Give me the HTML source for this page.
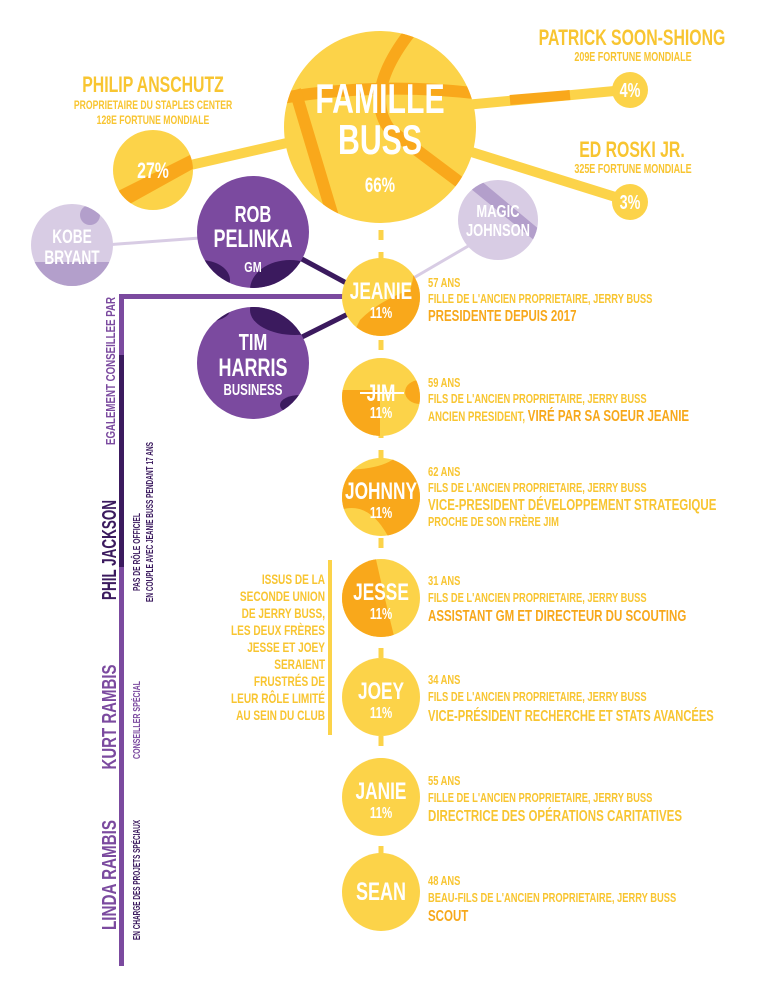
<!DOCTYPE html>
<html><head><meta charset="utf-8"><style>
html,body{margin:0;padding:0;background:#fff;}
svg{display:block;}
text{font-family:"Liberation Sans Narrow","Liberation Sans",sans-serif;font-weight:bold;transform-box:fill-box;transform-origin:50% 50%;transform:scaleX(.72);}
text.l{transform-origin:0 50%;}
text.r{transform-origin:100% 50%;}
text.n{transform:none;}
.w{fill:#fff;}
.y{fill:#f8c531;}
.o{fill:#f7a81b;}
.p{fill:#7b4a9f;}
.dp{fill:#3b1a5e;}
</style></head><body>
<svg width="770" height="1000" viewBox="0 0 770 1000" xmlns="http://www.w3.org/2000/svg">
<defs>
<clipPath id="cb"><circle cx="380" cy="127" r="96"/></clipPath>
<clipPath id="cph"><circle cx="153" cy="170" r="40"/></clipPath>
<clipPath id="crob"><circle cx="253" cy="232" r="56"/></clipPath>
<clipPath id="ctim"><circle cx="253" cy="363" r="56"/></clipPath>
<clipPath id="ckobe"><circle cx="72" cy="245" r="41"/></clipPath>
<clipPath id="cmag"><circle cx="498" cy="220" r="40"/></clipPath>
<clipPath id="cje"><circle cx="381" cy="297" r="39"/></clipPath>
<clipPath id="cjim"><circle cx="381" cy="397" r="39"/></clipPath>
<clipPath id="cjo"><circle cx="381" cy="497" r="39"/></clipPath>
<clipPath id="cjs"><circle cx="381" cy="598" r="39"/></clipPath>
</defs>

<line x1="160" y1="172" x2="300" y2="140" stroke="#fcd349" stroke-width="10"/>
<line x1="465" y1="105" x2="625" y2="90" stroke="#fcd349" stroke-width="10"/>
<line x1="510" y1="100" x2="570" y2="95" stroke="#f9a81b" stroke-width="10"/>
<line x1="465" y1="150" x2="625" y2="200" stroke="#fcd349" stroke-width="10"/>
<line x1="105" y1="245" x2="200" y2="238" stroke="#d8cce4" stroke-width="3"/>
<line x1="410" y1="280" x2="470" y2="245" stroke="#d8cce4" stroke-width="3"/>
<line x1="300" y1="258" x2="350" y2="285" stroke="#3b1a5e" stroke-width="5"/>
<line x1="300" y1="338" x2="350" y2="313" stroke="#3b1a5e" stroke-width="5"/>
<line x1="381" y1="230" x2="381" y2="900" stroke="#fcd349" stroke-width="5" stroke-dasharray="10,12"/>

<rect x="119" y="294" width="228" height="5" class="p"/>
<rect x="119" y="294" width="5" height="672" class="p"/>
<rect x="119" y="355" width="5" height="212" class="dp"/>
<rect x="328" y="560" width="4" height="175" fill="#fcd349"/>

<circle cx="380" cy="127" r="96" fill="#fcd349"/>
<g clip-path="url(#cb)" fill="none" stroke="#f9a81b" stroke-width="12">
<path d="M270 100 Q380 80 490 95"/>
<path d="M295 90 L340 240"/>
<path d="M420 20 Q360 90 390 130 Q430 160 470 190"/>
</g>
<text x="380" y="113" text-anchor="middle" class="w" font-size="42">FAMILLE</text>
<text x="380" y="154" text-anchor="middle" class="w" font-size="42">BUSS</text>
<text x="380" y="192" text-anchor="middle" class="w" font-size="21">66%</text>

<circle cx="153" cy="170" r="40" fill="#fcd349"/>
<g clip-path="url(#cph)"><polygon points="110,195 200,150 200,165 110,215" fill="#f9a81b"/></g>
<text x="153" y="178" text-anchor="middle" class="w" font-size="22">27%</text>
<text x="153" y="92" text-anchor="middle" class="y" font-size="22">PHILIP ANSCHUTZ</text>
<text x="153" y="109" text-anchor="middle" class="y" font-size="12">PROPRIETAIRE DU STAPLES CENTER</text>
<text x="153" y="124" text-anchor="middle" class="y" font-size="12">128E FORTUNE MONDIALE</text>

<circle cx="630" cy="90" r="18" fill="#fcd349"/>
<text x="630" y="97" text-anchor="middle" class="w" font-size="20">4%</text>
<text x="632" y="45" text-anchor="middle" class="y" font-size="22">PATRICK SOON-SHIONG</text>
<text x="633" y="61" text-anchor="middle" class="y" font-size="12.5">209E FORTUNE MONDIALE</text>
<circle cx="630" cy="202" r="18" fill="#fcd349"/>
<text x="630" y="209" text-anchor="middle" class="w" font-size="20">3%</text>
<text x="632" y="157" text-anchor="middle" class="y" font-size="22">ED ROSKI JR.</text>
<text x="633" y="173" text-anchor="middle" class="y" font-size="12.5">325E FORTUNE MONDIALE</text>

<circle cx="72" cy="245" r="41" fill="#d8cce4"/>
<g clip-path="url(#ckobe)"><rect x="30" y="262" width="90" height="30" fill="#b39fcb"/><circle cx="90" cy="215" r="10" fill="#b39fcb"/></g>
<text x="72" y="243" text-anchor="middle" class="w" font-size="19">KOBE</text>
<text x="72" y="264" text-anchor="middle" class="w" font-size="19">BRYANT</text>
<circle cx="498" cy="220" r="40" fill="#d8cce4"/>
<g clip-path="url(#cmag)"><polygon points="460,180 480,180 540,230 540,245" fill="#b39fcb"/></g>
<text x="498" y="217" text-anchor="middle" class="w" font-size="18">MAGIC</text>
<text x="498" y="236" text-anchor="middle" class="w" font-size="18">JOHNSON</text>

<circle cx="253" cy="232" r="56" class="p"/>
<g clip-path="url(#crob)" class="dp"><ellipse cx="290" cy="290" rx="40" ry="30"/><ellipse cx="200" cy="280" rx="30" ry="20"/></g>
<text x="253" y="222" text-anchor="middle" class="w" font-size="23">ROB</text>
<text x="253" y="247" text-anchor="middle" class="w" font-size="25">PELINKA</text>
<text x="253" y="272" text-anchor="middle" class="w" font-size="15">GM</text>
<circle cx="253" cy="363" r="56" class="p"/>
<g clip-path="url(#ctim)" class="dp"><ellipse cx="295" cy="310" rx="45" ry="25"/><ellipse cx="205" cy="310" rx="25" ry="12"/><ellipse cx="300" cy="405" rx="20" ry="10"/></g>
<text x="253" y="350" text-anchor="middle" class="w" font-size="23">TIM</text>
<text x="253" y="376" text-anchor="middle" class="w" font-size="25">HARRIS</text>
<text x="253" y="395" text-anchor="middle" class="w" font-size="16">BUSINESS</text>

<circle cx="381" cy="297" r="39" fill="#fcd349"/>
<g clip-path="url(#cje)" fill="#f9a81b"><path d="M360 320 Q380 300 410 290 Q420 260 400 262 L430 262 L430 340 L350 340 Z"/></g>
<text x="381" y="299" text-anchor="middle" class="w" font-size="24">JEANIE</text>
<text x="381" y="318" text-anchor="middle" class="w" font-size="16">11%</text>

<circle cx="381" cy="397" r="39" fill="#fcd349"/>
<g clip-path="url(#cjim)" fill="#f9a81b"><rect x="340" y="390" width="40" height="50"/><ellipse cx="420" cy="392" rx="15" ry="12"/></g>
<text x="381" y="401" text-anchor="middle" class="w" font-size="24">JIM</text>
<line x1="360" y1="393" x2="404" y2="393" stroke="#fff" stroke-width="2"/>
<text x="381" y="418" text-anchor="middle" class="w" font-size="16">11%</text>

<circle cx="381" cy="497" r="39" fill="#fcd349"/>
<g clip-path="url(#cjo)" fill="#f9a81b"><path d="M340 470 Q380 470 395 458 L430 455 L430 540 L390 540 Q370 500 340 510 Z"/></g>
<text x="381" y="499" text-anchor="middle" class="w" font-size="24">JOHNNY</text>
<text x="381" y="518" text-anchor="middle" class="w" font-size="16">11%</text>

<circle cx="381" cy="598" r="39" fill="#fcd349"/>
<g clip-path="url(#cjs)" fill="#f9a81b"><path d="M340 555 L375 555 Q385 600 395 640 L340 640 Z"/></g>
<text x="381" y="600" text-anchor="middle" class="w" font-size="24">JESSE</text>
<text x="381" y="619" text-anchor="middle" class="w" font-size="16">11%</text>

<circle cx="381" cy="697" r="39" fill="#fcd349"/>
<text x="381" y="699" text-anchor="middle" class="w" font-size="24">JOEY</text>
<text x="381" y="718" text-anchor="middle" class="w" font-size="16">11%</text>

<circle cx="381" cy="797" r="39" fill="#fcd349"/>
<text x="381" y="799" text-anchor="middle" class="w" font-size="24">JANIE</text>
<text x="381" y="818" text-anchor="middle" class="w" font-size="16">11%</text>

<circle cx="381" cy="892" r="39" fill="#fcd349"/>
<text x="381" y="900" text-anchor="middle" class="w" font-size="25">SEAN</text>

<g font-size="13">
<text x="428" y="287" class="y l">57 ANS</text>
<text x="428" y="303" class="y l">FILLE DE L'ANCIEN PROPRIETAIRE, JERRY BUSS</text>
<text x="428" y="321" class="o l" font-size="16">PRESIDENTE DEPUIS 2017</text>
<text x="428" y="387" class="y l">59 ANS</text>
<text x="428" y="403" class="y l">FILS DE L'ANCIEN PROPRIETAIRE, JERRY BUSS</text>
<text x="428" y="421" class="y l" font-size="13.5">ANCIEN PRESIDENT, <tspan class="o" font-size="16">VIRÉ PAR SA SOEUR JEANIE</tspan></text>
<text x="428" y="476" class="y l">62 ANS</text>
<text x="428" y="492" class="y l">FILS DE L'ANCIEN PROPRIETAIRE, JERRY BUSS</text>
<text x="428" y="510" class="y l" font-size="16">VICE-PRESIDENT DÉVELOPPEMENT STRATEGIQUE</text>
<text x="428" y="526" class="y l">PROCHE DE SON FRÈRE JIM</text>
<text x="428" y="585" class="y l">31 ANS</text>
<text x="428" y="602" class="y l">FILS DE L'ANCIEN PROPRIETAIRE, JERRY BUSS</text>
<text x="428" y="621" class="o l" font-size="16">ASSISTANT GM ET DIRECTEUR DU SCOUTING</text>
<text x="428" y="684" class="y l">34 ANS</text>
<text x="428" y="701" class="y l">FILS DE L'ANCIEN PROPRIETAIRE, JERRY BUSS</text>
<text x="428" y="721" class="y l" font-size="15.5">VICE-PRÉSIDENT RECHERCHE ET STATS AVANCÉES</text>
<text x="428" y="785" class="y l">55 ANS</text>
<text x="428" y="802" class="y l">FILLE DE L'ANCIEN PROPRIETAIRE, JERRY BUSS</text>
<text x="428" y="821" class="y l" font-size="16">DIRECTRICE DES OPÉRATIONS CARITATIVES</text>
<text x="428" y="885" class="y l">48 ANS</text>
<text x="428" y="902" class="y l">BEAU-FILS DE L'ANCIEN PROPRIETAIRE, JERRY BUSS</text>
<text x="428" y="921" class="o l" font-size="16">SCOUT</text>
</g>

<g font-size="14" text-anchor="end" class="y">
<text x="325" y="584" class="r">ISSUS DE LA</text>
<text x="325" y="601" class="r">SECONDE UNION</text>
<text x="325" y="618" class="r">DE JERRY BUSS,</text>
<text x="325" y="635" class="r">LES DEUX FRÈRES</text>
<text x="325" y="652" class="r">JESSE ET JOEY</text>
<text x="325" y="669" class="r">SERAIENT</text>
<text x="325" y="686" class="r">FRUSTRÉS DE</text>
<text x="325" y="703" class="r">LEUR RÔLE LIMITÉ</text>
<text x="325" y="720" class="r">AU SEIN DU CLUB</text>
</g>

<g transform="translate(115,371) rotate(-90)"><text x="0" y="0" text-anchor="middle" class="p n" font-size="13" textLength="148" lengthAdjust="spacingAndGlyphs">EGALEMENT CONSEILLEE PAR</text></g>
<g transform="translate(116,550) rotate(-90)"><text x="0" y="0" text-anchor="middle" class="dp n" font-size="20" textLength="100" lengthAdjust="spacingAndGlyphs">PHIL JACKSON</text></g>
<g transform="translate(140,552) rotate(-90)"><text x="0" y="0" text-anchor="middle" class="dp n" font-size="10" textLength="78" lengthAdjust="spacingAndGlyphs">PAS DE RÔLE OFFICIEL</text></g>
<g transform="translate(153,522) rotate(-90)"><text x="0" y="0" text-anchor="middle" class="dp n" font-size="10" textLength="160" lengthAdjust="spacingAndGlyphs">EN COUPLE AVEC JEANIE BUSS PENDANT 17 ANS</text></g>
<g transform="translate(116,717) rotate(-90)"><text x="0" y="0" text-anchor="middle" class="p n" font-size="20" textLength="105" lengthAdjust="spacingAndGlyphs">KURT RAMBIS</text></g>
<g transform="translate(140,720) rotate(-90)"><text x="0" y="0" text-anchor="middle" class="p n" font-size="10" textLength="78" lengthAdjust="spacingAndGlyphs">CONSEILLER SPÉCIAL</text></g>
<g transform="translate(116,875) rotate(-90)"><text x="0" y="0" text-anchor="middle" class="p n" font-size="20" textLength="110" lengthAdjust="spacingAndGlyphs">LINDA RAMBIS</text></g>
<g transform="translate(140,880) rotate(-90)"><text x="0" y="0" text-anchor="middle" class="dp n" font-size="10" textLength="120" lengthAdjust="spacingAndGlyphs">EN CHARGE DES PROJETS SPÉCIAUX</text></g>
</svg>
</body></html>
